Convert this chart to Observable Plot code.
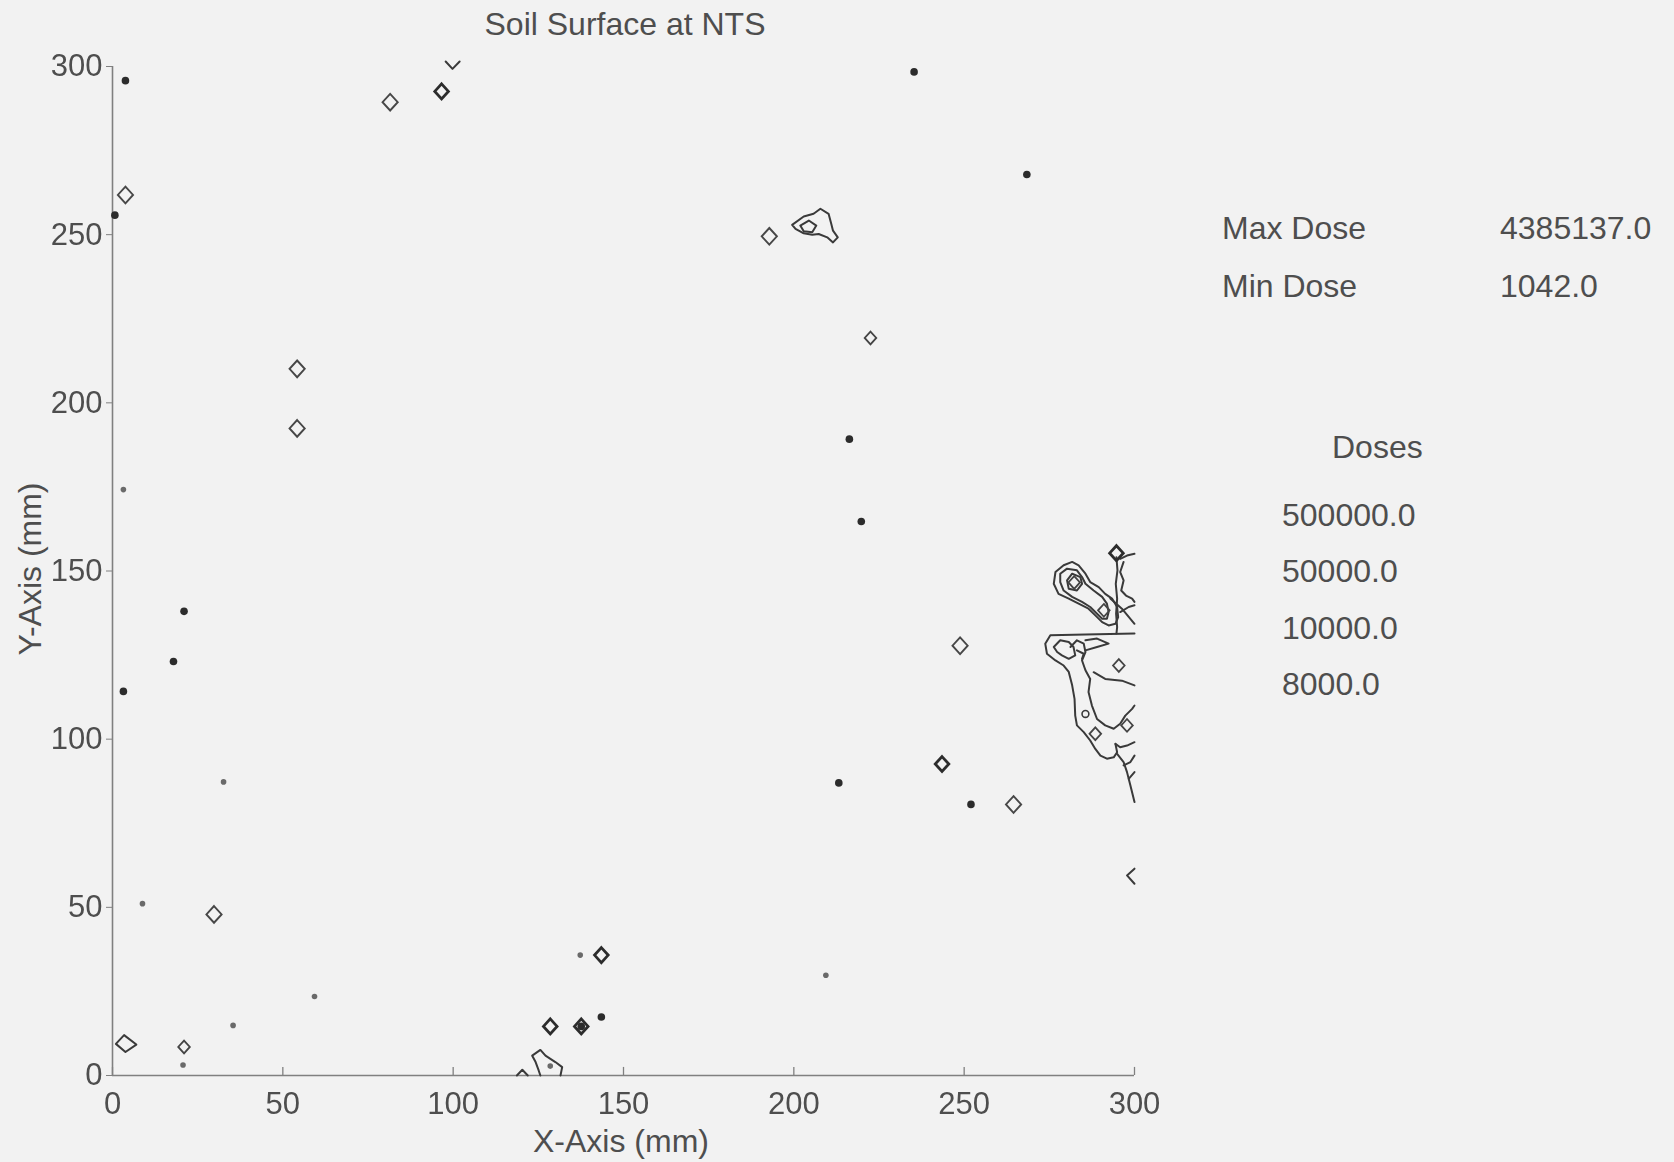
<!DOCTYPE html>
<html>
<head>
<meta charset="utf-8">
<script src="https://cdn.jsdelivr.net/npm/d3@7"></script>
<script src="https://cdn.jsdelivr.net/npm/@observablehq/plot@0.6"></script>
<style>
  html, body { margin: 0; padding: 0; background: #f2f2f2; }
  #wrap { position: relative; width: 1674px; height: 1162px; overflow: hidden;
          font-family: "Liberation Sans", Arial, sans-serif; color: #4e4e4e; }
  #wrap svg { position: absolute; left: 0; top: 0; filter: blur(0.5px); }
  .t { position: absolute; font-size: 32px; line-height: 32px; white-space: nowrap; transform: translateY(-50%); }
  .c { transform: translate(-50%, -50%); }
  .rot { transform: translate(-50%, -50%) rotate(-90deg); }
</style>
</head>
<body>
<div id="wrap"></div>
<script>
// ---- data ----
const title = "Soil Surface at NTS";
const xLabel = "X-Axis (mm)";
const yLabel = "Y-Axis (mm)";
const xTicks = [0, 50, 100, 150, 200, 250, 300];
const yTicks = [0, 50, 100, 150, 200, 250, 300];
const summaryLabels = ["Max Dose", "Min Dose"];
const summaryValues = [4385137.0, 1042.0];
const legendTitle = "Doses";
const doseLevels = [500000.0, 50000.0, 10000.0, 8000.0];

// isolated single-cell contours (mm)
const diamondsBold = [
  {x: 96.6, y: 292.6}, {x: 143.5, y: 35.8}, {x: 128.5, y: 14.6}, {x: 137.6, y: 14.6},
  {x: 294.7, y: 155.3}, {x: 243.5, y: 92.6}
];
const diamondsPlain = [
  {x: 3.8, y: 261.8}, {x: 81.5, y: 289.4}, {x: 54.2, y: 210.1}, {x: 54.2, y: 192.4},
  {x: 192.8, y: 249.5}, {x: 29.8, y: 47.9}, {x: 248.8, y: 127.8}, {x: 264.5, y: 80.6}
];
const diamondsSmall = [
  {x: 222.5, y: 219.3}, {x: 21.0, y: 8.5}, {x: 282.3, y: 146.6}, {x: 291.0, y: 138.3},
  {x: 295.4, y: 121.9}, {x: 297.8, y: 104.1}, {x: 288.5, y: 101.6}
];
const dotsDark = [
  {x: 3.8, y: 295.8}, {x: 235.3, y: 298.4}, {x: 268.4, y: 267.9}, {x: 0.7, y: 255.8},
  {x: 216.3, y: 189.2}, {x: 219.8, y: 164.7}, {x: 21.0, y: 138.0}, {x: 17.9, y: 123.1},
  {x: 3.2, y: 114.2}, {x: 213.2, y: 87.0}, {x: 252.0, y: 80.6}, {x: 143.5, y: 17.4},
  {x: 137.6, y: 14.6}
];
const dotsLight = [
  {x: 3.2, y: 174.2}, {x: 32.6, y: 87.3}, {x: 8.8, y: 51.1}, {x: 59.3, y: 23.5},
  {x: 35.4, y: 14.9}, {x: 20.7, y: 3.1}, {x: 137.3, y: 35.8}, {x: 209.4, y: 29.8},
  {x: 128.5, y: 2.8}
];
const smallLoops = [{x: 285.6, y: 107.5}];

// contour polylines (mm)
const contourPaths = [
  // cluster near (205, 252)
  [[199.5,252.9],[202.9,255.4],[205.8,256.2],[207.8,257.7],[210.2,256.2],[211.0,253.2],[211.5,251.2],[212.9,249.2],[211.5,247.7],[209.8,249.2],[207.3,250.2],[205.4,250.0],[202.9,250.4],[200.5,251.7],[199.5,252.9]],
  [[201.9,252.7],[204.4,254.2],[206.6,252.7],[205.4,250.7],[202.9,251.0],[201.9,252.7]],
  // edge fragments
  [[97.8,301.5],[99.8,299.3],[101.9,301.5]],
  [[300,61.5],[297.8,59.5],[300,57.0]],
  [[1.0,9.4],[3.4,12.0],[7.0,9.2],[3.8,7.0],[1.0,9.4]],
  [[118.7,0],[120.3,1.7],[121.9,0]],
  [[125.6,0],[125.1,1.5],[124.2,4.0],[123.2,5.9],[125.6,7.6],[127.1,5.9],[130.0,4.0],[132.0,2.5],[131.5,0]],
  // right cluster, upper blob
  [[276.8,149.7],[279.2,151.7],[281.7,152.7],[283.6,151.7],[285.6,149.2],[287.0,146.7],[289.5,145.2],[291.4,143.2],[293.4,141.8],[294.9,139.3],[295.2,136.3],[294.4,134.3],[292.4,133.8],[290.5,134.8],[288.5,136.8],[286.5,138.8],[283.6,140.3],[280.7,141.8],[277.7,143.2],[276.3,146.2],[276.8,149.7]],
  [[278.2,149.2],[280.2,150.7],[283.1,150.2],[284.6,148.2],[285.6,146.2],[288.0,144.2],[290.5,142.3],[291.9,140.3],[292.4,137.8],[291.9,135.8],[290.5,135.8],[289.0,137.3],[287.0,139.3],[284.6,140.8],[281.7,142.3],[279.2,144.2],[278.2,146.7],[278.2,149.2]],
  [[280.2,147.2],[281.7,149.2],[284.1,148.2],[284.6,146.2],[283.1,144.2],[280.7,144.7],[280.2,147.2]],
  [[294.7,154.1],[295.0,150.2],[294.5,146.2],[294.9,141.8],[294.6,137.3],[294.9,133.3],[294.7,131.4]],
  [[295.8,153.6],[297.8,154.6],[300,155.1]],
  [[296.8,152.7],[295.8,149.7],[296.8,147.2],[296.1,144.2],[297.5,142.7],[299.3,141.8],[300,140.8]],
  [[292.9,141.8],[296.3,138.8],[300,134.3]],
  [[295.8,137.8],[298.3,139.3],[300,139.8]],
  // right cluster, lower blob
  [[300,131.4],[285.6,131.1],[275.3,130.9],[273.8,128.4],[274.3,125.4],[276.8,123.4],[279.2,121.9],[280.7,120.0],[281.7,116.0],[282.4,112.0],[282.6,107.0],[283.1,104.1],[285.1,102.1],[287.0,99.6],[288.5,97.1],[290.0,95.1],[291.9,94.2],[293.9,94.6],[294.9,96.1],[294.4,98.6]],
  [[276.3,127.4],[278.2,129.4],[280.7,128.9],[282.1,127.4],[282.6,124.9],[280.7,123.9],[278.7,124.9],[277.3,125.9],[276.3,127.4]],
  [[281.2,127.4],[283.1,129.4],[285.1,128.4],[285.6,125.9],[284.6,123.4],[285.6,120.5],[287.0,117.9],[286.5,114.0],[287.5,110.0],[289.0,106.0],[291.4,104.1],[293.9,103.1],[295.8,104.6],[297.3,107.0],[299.3,109.0],[300,110.0]],
  [[285.6,129.4],[289.0,129.9],[292.4,128.4],[289.0,127.4],[285.6,126.4]],
  [[283.1,126.4],[285.1,125.4],[284.6,123.9]],
  [[288.0,119.9],[291.4,117.9],[296.3,117.4],[300,116.0]],
  [[294.4,98.6],[295.8,97.6],[297.8,98.1],[300,99.1]],
  [[294.9,95.6],[296.8,93.2],[297.8,90.2],[298.8,86.2],[300,81.3]],
  [[296.8,92.2],[298.8,93.2],[300,95.1]],
  [[298.3,88.2],[300,90.2]]
];

// ---- build ----
const contourRows = contourPaths.flatMap((p, i) => p.map(([x, y]) => ({x, y, path: i})));
const tallDiamond = {
  draw(context, size) {
    const r = Math.sqrt(size / Math.PI);
    context.moveTo(0, -r * 1.1);
    context.lineTo(r, 0);
    context.lineTo(0, r * 1.1);
    context.lineTo(-r, 0);
    context.closePath();
  }
};
const ink = "#3a3a3a";

const chart = Plot.plot({
  width: 1674,
  height: 1162,
  marginLeft: 112,
  marginRight: 540,
  marginTop: 66,
  marginBottom: 87,
  x: {domain: [0, 300], label: null},
  y: {domain: [0, 300], label: null},
  style: {background: "transparent", fontFamily: "'Liberation Sans', Arial, sans-serif", fontSize: "31px", color: "#4e4e4e", overflow: "visible"},
  marks: [
    Plot.axisX({ticks: xTicks, tickSize: 0, tickPadding: 16, fontSize: 31, fill: "#4e4e4e", label: null}),
    Plot.axisY({ticks: yTicks, tickSize: 6, tickPadding: 4, fontSize: 31, fill: "#4e4e4e", stroke: "#808080", label: null}),
    Plot.ruleX(xTicks, {x: d => d, y1: 0, y2: 2.4, stroke: "#808080", strokeWidth: 1.3}),
    Plot.ruleX([0], {y1: 0, y2: 300, stroke: "#808080", strokeWidth: 1.6}),
    Plot.ruleY([0], {x1: 0, x2: 300, stroke: "#808080", strokeWidth: 1.6}),
    Plot.line(contourRows, {x: "x", y: "y", z: "path", stroke: ink, strokeWidth: 2, strokeLinejoin: "round", strokeLinecap: "round"}),
    Plot.dot(diamondsPlain, {x: "x", y: "y", symbol: tallDiamond, r: 7.6, stroke: "#474747", strokeWidth: 1.9, fill: "none"}),
    Plot.dot(diamondsBold, {x: "x", y: "y", symbol: tallDiamond, r: 6.8, stroke: "#2c2c2c", strokeWidth: 2.8, fill: "none"}),
    Plot.dot(diamondsSmall, {x: "x", y: "y", symbol: tallDiamond, r: 5.8, stroke: "#444", strokeWidth: 1.8, fill: "none"}),
    Plot.dot(smallLoops, {x: "x", y: "y", r: 3.4, stroke: ink, strokeWidth: 1.6, fill: "none"}),
    Plot.dot(dotsDark, {x: "x", y: "y", r: 3.8, fill: "#2c2c2c", stroke: "none"}),
    Plot.dot(dotsLight, {x: "x", y: "y", r: 2.8, fill: "#6a6a6a", stroke: "none"})
  ]
});

const wrap = document.getElementById("wrap");
wrap.appendChild(chart);

function addText(txt, left, top, cls) {
  const d = document.createElement("div");
  d.className = "t " + (cls || "");
  d.textContent = txt;
  d.style.left = left + "px";
  d.style.top = top + "px";
  wrap.appendChild(d);
}
addText(title, 625, 24, "c");
addText(xLabel, 621, 1141, "c");
addText(yLabel, 30, 569, "rot");
const summaryY = [228, 286];
summaryLabels.forEach((s, i) => {
  addText(s, 1222, summaryY[i]);
  addText(summaryValues[i].toFixed(1), 1500, summaryY[i]);
});
addText(legendTitle, 1332, 447);
const levelY = [515, 571, 628, 684];
doseLevels.forEach((v, i) => addText(v.toFixed(1), 1282, levelY[i]));
</script>
</body>
</html>
